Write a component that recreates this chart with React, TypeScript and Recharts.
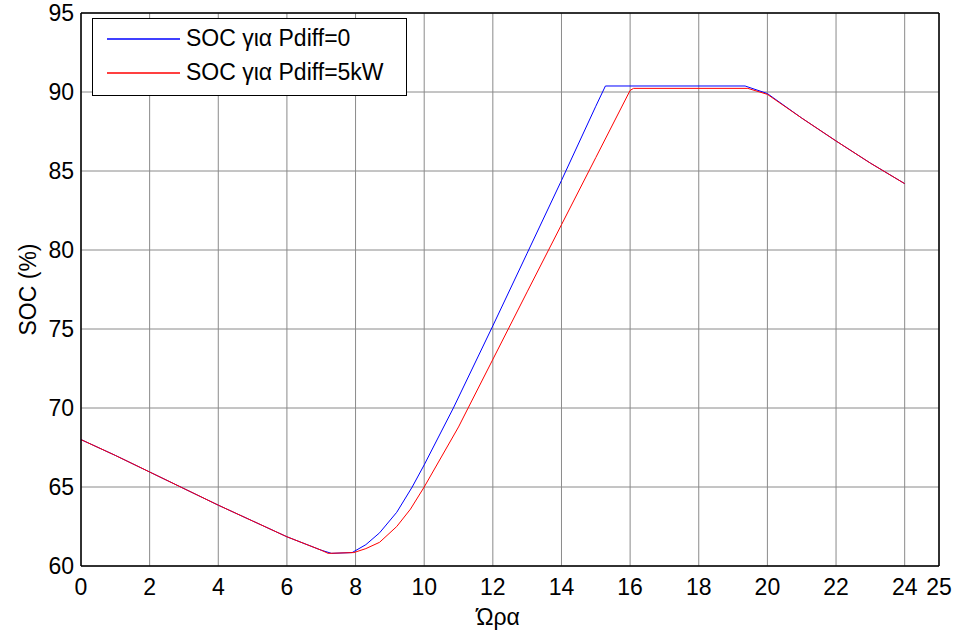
import { LineChart, Line, XAxis, YAxis, CartesianGrid, ReferenceLine, Label } from "recharts";

// Ώρα (h) και SOC (%) για κάθε σενάριο
const blueHours = [0, 1, 2, 3, 4, 5, 6, 7, 7.3, 7.9, 8.3, 8.7, 9.2, 9.65, 10, 10.85, 12, 13, 14, 15, 15.28, 19.35, 20, 21, 22, 23, 24];
const blueSoc = [68.0, 67.0, 65.95, 64.9, 63.85, 62.85, 61.85, 61.0, 60.8, 60.85, 61.35, 62.1, 63.4, 65.0, 66.4, 70.0, 75.2, 79.8, 84.4, 89.1, 90.38, 90.38, 89.9, 88.35, 86.9, 85.5, 84.2];

const redHours = [0, 1, 2, 3, 4, 5, 6, 7, 7.2, 7.95, 8.3, 8.7, 9.2, 9.6, 10, 10.5, 11, 11.28, 12.45, 13, 14, 15, 16, 16.1, 19.43, 20, 21, 22, 23, 24];
const redSoc = [68.0, 67.0, 65.95, 64.9, 63.85, 62.85, 61.85, 61.0, 60.8, 60.85, 61.1, 61.5, 62.5, 63.6, 65.0, 66.9, 68.8, 70.0, 75.0, 77.35, 81.6, 85.85, 90.1, 90.23, 90.23, 89.85, 88.35, 86.9, 85.5, 84.2];

const xTicks = [0, 2, 4, 6, 8, 10, 12, 14, 16, 18, 20, 22, 24, 25];
const yTicks = [60, 65, 70, 75, 80, 85, 90, 95];

const series = [
  { name: "SOC για Pdiff=0", color: "#0000ff" },
  { name: "SOC για Pdiff=5kW", color: "#ff0000" },
];

const blueData = blueHours.map((h, i) => ({ h, soc: blueSoc[i] }));
const redData = redHours.map((h, i) => ({ h, soc: redSoc[i] }));

const font = "'Liberation Sans', Arial, sans-serif";
const tickStyle = { fontSize: 23, fill: "#000", fontFamily: font };

// legend drawn as an overlay so the plot keeps its full height
function LegendBox() {
  return (
    <div
      style={{
        position: "absolute",
        left: 92,
        top: 18,
        width: 313,
        height: 73,
        border: "1.5px solid #000",
        background: "#fff",
        fontFamily: font,
        fontSize: 23,
        color: "#000",
        paddingTop: 2.5,
      }}
    >
      {series.map((s) => (
        <div key={s.name} style={{ display: "flex", alignItems: "center", height: 34 }}>
          <svg width={93} height={10}>
            <line x1={14} x2={87} y1={5} y2={5} stroke={s.color} strokeWidth={1.5} />
          </svg>
          <span>{s.name}</span>
        </div>
      ))}
    </div>
  );
}

const XLabel = ({ viewBox }: any) => (
  <text
    x={viewBox.x + viewBox.width / 2 - 12}
    y={viewBox.y + viewBox.height - 6}
    textAnchor="middle"
    fontSize={23}
    fontFamily={font}
    fill="#000"
  >
    Ώρα
  </text>
);

export default function App() {
  return (
    <div style={{ position: "absolute", left: 0, top: 0, width: 953, height: 631, background: "#fff" }}>
      <LineChart width={953} height={631} margin={{ top: 13, right: 14, bottom: 0, left: 21 }}>
        <CartesianGrid stroke="#8a8a8a" strokeWidth={1} />
        <XAxis
          dataKey="h"
          type="number"
          domain={[0, 25]}
          ticks={xTicks}
          allowDuplicatedCategory={false}
          height={65}
          tickLine={false}
          tickSize={0}
          tickMargin={13}
          tick={tickStyle}
          axisLine={{ stroke: "#000", strokeWidth: 1.5 }}
        >
          <Label content={XLabel} />
        </XAxis>
        <YAxis
          type="number"
          domain={[60, 95]}
          ticks={yTicks}
          width={60}
          tickLine={false}
          tickSize={0}
          tickMargin={7}
          tick={tickStyle}
          axisLine={{ stroke: "#000", strokeWidth: 1.5 }}
        >
          <Label
            value="SOC (%)"
            angle={-90}
            position="insideLeft"
            offset={7}
            style={{ fontSize: 23, fill: "#000", fontFamily: font, textAnchor: "middle" }}
          />
        </YAxis>
        <ReferenceLine y={95} stroke="#000" strokeWidth={1.5} />
        <ReferenceLine x={25} stroke="#000" strokeWidth={1.5} />
        <Line
          data={blueData}
          dataKey="soc"
          name={series[0].name}
          stroke={series[0].color}
          strokeWidth={1}
          dot={false}
          type="linear"
          isAnimationActive={false}
        />
        <Line
          data={redData}
          dataKey="soc"
          name={series[1].name}
          stroke={series[1].color}
          strokeWidth={1}
          dot={false}
          type="linear"
          isAnimationActive={false}
        />
      </LineChart>
      <LegendBox />
    </div>
  );
}
